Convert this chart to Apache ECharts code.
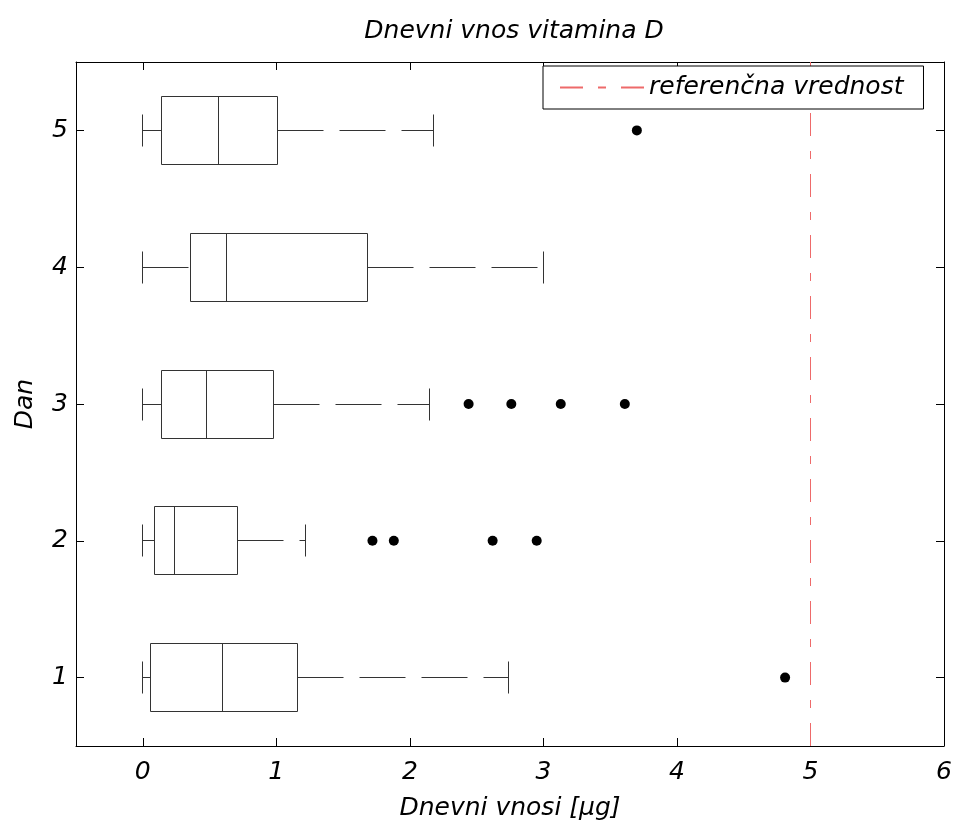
<!DOCTYPE html>
<html>
<head>
<meta charset="utf-8">
<script src="https://cdn.jsdelivr.net/npm/echarts@6/dist/echarts.min.js"></script>
<style>
  html, body { margin: 0; padding: 0; background: #fff; }
  #chart { width: 956px; height: 821px; }
</style>
</head>
<body>
<div id="chart"></div>
<script>
// Daily vitamin D intake per day: box statistics and outliers
const days = ['1', '2', '3', '4', '5'];
const whiskerLow = [0, 0, 0, 0, 0];
const quartile1 = [0.06, 0.09, 0.14, 0.36, 0.14];
const medians = [0.60, 0.24, 0.48, 0.63, 0.57];
const quartile3 = [1.16, 0.71, 0.98, 1.68, 1.01];
const whiskerHigh = [2.74, 1.22, 2.15, 3.00, 2.18];

const outliersDay1 = [4.81];
const outliersDay2 = [1.72, 1.88, 2.62, 2.95];
const outliersDay3 = [2.44, 2.76, 3.13, 3.61];
const outliersDay4 = [];
const outliersDay5 = [3.70];

const referenceValue = 5;
const xTicks = [0, 1, 2, 3, 4, 5, 6];

const FONT = "'DejaVu Sans', sans-serif";
const LINE = '#333';
const REF_COLOR = '#ee6a6a';

const boxData = days.map((d, i) => [i, whiskerLow[i], quartile1[i], medians[i], quartile3[i], whiskerHigh[i]]);
const outlierData = [];
[outliersDay1, outliersDay2, outliersDay3, outliersDay4, outliersDay5].forEach((list, i) => {
  list.forEach(v => outlierData.push([v, i]));
});

const snap = v => Math.floor(v) + 0.5;

function renderBox(params, api) {
  const cat = api.value(0);
  const lo = api.value(1), q1 = api.value(2), md = api.value(3), q3 = api.value(4), hi = api.value(5);
  const band = api.size([0, 1])[1];
  const yc = snap(api.coord([0, cat])[1]);
  const boxHalf = Math.round(band * 0.25);
  const capHalf = Math.round(band * 0.12);
  const X = v => snap(api.coord([v, cat])[0]);
  const solid = { stroke: LINE, lineWidth: 1, fill: null };
  const dashed = { stroke: LINE, lineWidth: 1, lineDash: [46, 16] };
  return {
    type: 'group',
    children: [
      { type: 'line', shape: { x1: X(lo), y1: yc, x2: X(q1), y2: yc }, style: dashed },
      { type: 'line', shape: { x1: X(q3), y1: yc, x2: X(hi), y2: yc }, style: dashed },
      { type: 'line', shape: { x1: X(lo), y1: yc - capHalf, x2: X(lo), y2: yc + capHalf }, style: solid },
      { type: 'line', shape: { x1: X(hi), y1: yc - capHalf, x2: X(hi), y2: yc + capHalf }, style: solid },
      { type: 'rect', shape: { x: X(q1), y: yc - boxHalf, width: X(q3) - X(q1), height: boxHalf * 2 },
        style: { stroke: LINE, lineWidth: 1, fill: '#fff' } },
      { type: 'line', shape: { x1: X(md), y1: yc - boxHalf, x2: X(md), y2: yc + boxHalf }, style: solid }
    ]
  };
}

const labelText = { fontFamily: FONT, fontStyle: 'italic', fontSize: 25, color: '#000' };
const axisLine = { show: true, onZero: false, lineStyle: { color: '#000', width: 1 } };

const chart = echarts.init(document.getElementById('chart'), null, { renderer: 'canvas' });
chart.setOption({
  animation: false,
  backgroundColor: '#fff',
  title: {
    text: 'Dnevni vnos vitamina D',
    left: 509, top: 14, textAlign: 'center',
    textStyle: { fontFamily: FONT, fontStyle: 'italic', fontWeight: 'normal', fontSize: 25, color: '#000' }
  },
  legend: {
    left: 543, top: 66,
    z: 20,
    padding: [9, 20, 9, 16],
    backgroundColor: '#fff',
    borderColor: '#000', borderWidth: 1, borderRadius: 0,
    itemWidth: 84, itemHeight: 14,
    itemStyle: { color: 'transparent', borderColor: 'transparent', opacity: 0 },
    textStyle: labelText,
    data: ['referenčna vrednost']
  },
  grid: { left: 76, right: 12, top: 62, bottom: 75, containLabel: false, outerBoundsMode: 'none' },
  xAxis: [
    {
      type: 'value', min: -0.5, max: 6, position: 'bottom',
      name: 'Dnevni vnosi [\u03bcg]', nameLocation: 'middle', nameGap: 50,
      nameTextStyle: labelText,
      axisLine: axisLine,
      axisTick: { show: true, inside: true, length: 8, customValues: xTicks, lineStyle: { color: '#000' } },
      axisLabel: { customValues: xTicks, margin: 14, ...labelText },
      splitLine: { show: false }
    },
    {
      type: 'value', min: -0.5, max: 6, position: 'top',
      axisLine: axisLine,
      axisTick: { show: true, inside: true, length: 8, customValues: xTicks, lineStyle: { color: '#000' } },
      axisLabel: { show: false },
      splitLine: { show: false }
    }
  ],
  yAxis: [
    {
      type: 'category', data: days, position: 'left', boundaryGap: true,
      name: 'Dan', nameLocation: 'middle', nameGap: 38,
      nameTextStyle: labelText,
      axisLine: axisLine,
      axisTick: { show: true, inside: true, alignWithLabel: true, length: 8, lineStyle: { color: '#000' } },
      axisLabel: { margin: 8, ...labelText }
    },
    {
      type: 'category', data: days, position: 'right', boundaryGap: true,
      axisLine: axisLine,
      axisTick: { show: true, inside: true, alignWithLabel: true, length: 8, lineStyle: { color: '#000' } },
      axisLabel: { show: false }
    }
  ],
  series: [
    {
      type: 'custom',
      name: 'boxes',
      xAxisIndex: 0, yAxisIndex: 0,
      renderItem: renderBox,
      encode: { x: [1, 2, 3, 4, 5], y: 0 },
      data: boxData,
      z: 3
    },
    {
      type: 'scatter',
      name: 'outliers',
      xAxisIndex: 0, yAxisIndex: 0,
      symbol: 'circle', symbolSize: 10,
      itemStyle: { color: '#000', opacity: 1 },
      data: outlierData,
      z: 4
    },
    {
      type: 'line',
      name: 'referenčna vrednost',
      xAxisIndex: 0, yAxisIndex: 0,
      data: [],
      symbol: 'none',
      color: REF_COLOR,
      lineStyle: { color: REF_COLOR, width: 1, type: [23, 15, 8, 15] },
      markLine: {
        silent: true,
        symbol: ['none', 'none'],
        label: { show: false },
        lineStyle: { color: REF_COLOR, width: 1, type: [23, 15, 8, 15] },
        data: [{ xAxis: referenceValue }]
      },
      z: 1
    }
  ]
});
</script>
</body>
</html>
